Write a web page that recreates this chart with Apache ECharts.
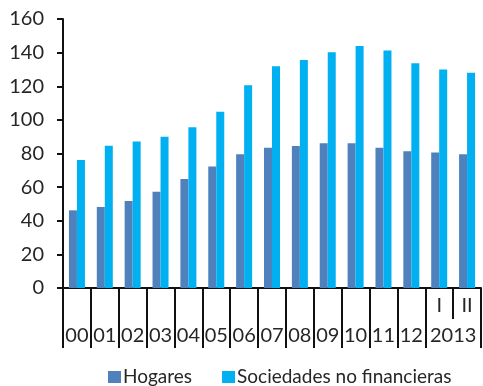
<!DOCTYPE html>
<html>
<head>
<meta charset="utf-8">
<script src="https://cdn.jsdelivr.net/npm/echarts@6/dist/echarts.min.js"></script>
<style>html,body{margin:0;padding:0;background:#fff}#c{width:483px;height:386px}</style>
</head>
<body>
<div id="c"></div>
<script>
var categories = ['00','01','02','03','04','05','06','07','08','09','10','11','12','I','II'];
var yearLabels = ['00','01','02','03','04','05','06','07','08','09','10','11','12','2013',''];
var hogares = [46.2, 48.2, 51.7, 57.2, 64.8, 72.3, 79.6, 83.4, 84.4, 86.1, 86.1, 83.4, 81.4, 80.6, 79.6];
var sociedades = [76.1, 84.6, 87.1, 89.9, 95.6, 104.8, 120.6, 131.9, 135.6, 140.2, 144.0, 141.2, 133.7, 129.9, 128.1];
var yTicks = [0, 20, 40, 60, 80, 100, 120, 140, 160];

var FONT = 'Lato';
var FS = 20;
var TXT = '#262626';
var chart = echarts.init(document.getElementById('c'));
chart.setOption({
  animation: false,
  textStyle: {fontFamily: FONT},
  grid: {left: 63, right: 2, top: 19, bottom: 98, containLabel: false},
  legend: {
    left: 103, top: 362, icon: 'rect', itemWidth: 13, itemHeight: 12, itemGap: 30,
    textStyle: {fontFamily: FONT, fontSize: 19, lineHeight: 20, color: TXT, padding: [0,0,0,-3]},
    data: ['Hogares', 'Sociedades no financieras']
  },
  xAxis: [{
    type: 'category', data: categories, position: 'bottom',
    axisLine: {show: true, lineStyle: {color: '#111', width: 2}},
    axisTick: {show: true, length: 31, interval: 0, lineStyle: {color: '#111', width: 2}},
    axisLabel: {
      interval: 0, margin: 8, fontSize: FS, color: TXT, fontFamily: FONT,
      formatter: function (v) { return (v === 'I' || v === 'II') ? v : ''; }
    },
    splitLine: {show: false}
  }, {
    type: 'category', data: categories, position: 'bottom', gridIndex: 0,
    axisLine: {show: false},
    axisTick: {show: true, length: 60, interval: function (i) { return i !== 14; }, lineStyle: {color: '#111', width: 2}},
    axisLabel: {
      interval: 0, margin: 38, fontSize: FS, color: TXT, fontFamily: FONT,
      formatter: function (v, i) {
        var t = yearLabels[i];
        if (t === '2013') return '{y|' + t + '}';
        return t;
      },
      rich: {y: {fontSize: FS, color: TXT, fontFamily: FONT, padding: [0, 0, 0, 28]}}
    },
    splitLine: {show: false}
  }],
  yAxis: {
    type: 'value', min: yTicks[0], max: yTicks[yTicks.length - 1], interval: 20,
    axisLine: {show: true, lineStyle: {color: '#111', width: 2}},
    axisTick: {show: true, length: 6, lineStyle: {color: '#111', width: 2}},
    axisLabel: {margin: 19, fontSize: FS, color: TXT, fontFamily: FONT},
    splitLine: {show: false}
  },
  series: [{
    name: 'Hogares', type: 'bar', xAxisIndex: 0, data: hogares,
    barWidth: 8, barGap: '0%',
    itemStyle: {color: '#4f81bd'}
  }, {
    name: 'Sociedades no financieras', type: 'bar', xAxisIndex: 0, data: sociedades,
    barWidth: 8, barGap: '0%',
    itemStyle: {color: '#00b0f0'}
  }]
});
</script>
</body>
</html>
